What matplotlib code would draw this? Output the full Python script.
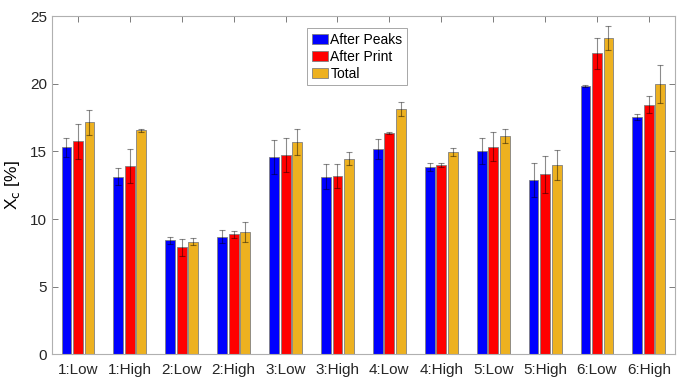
import matplotlib.pyplot as plt
import numpy as np

plt.rcParams['font.family'] = ['Liberation Sans', 'DejaVu Sans']

# kategori sampel
kategori = ['1:Low', '1:High', '2:Low', '2:High', '3:Low', '3:High',
            '4:Low', '4:High', '5:Low', '5:High', '6:Low', '6:High']

# nilai Xc [%] tiap seri
after_peaks = [15.3, 13.15, 8.43, 8.70, 14.6, 13.15, 15.15, 13.83, 15.05, 12.9, 19.85, 17.55]
after_print = [15.75, 13.92, 7.9, 8.87, 14.75, 13.18, 16.38, 13.98, 15.35, 13.3, 22.25, 18.45]
total = [17.15, 16.58, 8.33, 9.05, 15.68, 14.47, 18.12, 14.95, 16.15, 14.0, 23.38, 20.0]

# error bar (std)
err_peaks = [0.67, 0.66, 0.27, 0.5, 1.24, 0.94, 0.74, 0.3, 0.96, 1.26, 0.05, 0.2]
err_print = [1.3, 1.23, 0.6, 0.27, 1.26, 0.9, 0.06, 0.16, 1.08, 1.38, 1.13, 0.62]
err_total = [0.93, 0.12, 0.25, 0.74, 0.96, 0.5, 0.52, 0.3, 0.55, 1.14, 0.89, 1.41]

seri = [('After Peaks', after_peaks, err_peaks, (0, 0, 1)),
        ('After Print', after_print, err_print, (1, 0, 0)),
        ('Total', total, err_total, (0.929, 0.694, 0.125))]

x = np.arange(1, len(kategori) + 1)
lebar = 0.19
geser = 0.222

fig = plt.figure(figsize=(6.9, 3.85), dpi=100)
ax = fig.add_axes([0.0754, 0.0797, 0.9026, 0.878])

for i, (nama, nilai, err, warna) in enumerate(seri):
    pos = x + (i - 1) * geser
    ax.bar(pos, nilai, width=lebar, color=warna, edgecolor='#808080',
           linewidth=0.6, label=nama, zorder=2)
    ax.errorbar(pos, nilai, yerr=err, fmt='none', ecolor='black', alpha=0.45,
                elinewidth=0.8, capsize=2, capthick=0.8, zorder=3)

ax.set_xlim(0.5, 12.5)
ax.set_ylim(0, 25)
ax.set_yticks([0, 5, 10, 15, 20, 25])
ax.set_xticks(x)
ax.set_xticklabels(kategori)
ax.set_ylabel('X$_\\mathrm{c}$ [%]', fontsize=12.5, labelpad=6)
ax.tick_params(axis='both', direction='in', length=4, width=0.6, color='#666666',
               labelsize=11, top=True, right=True, labelcolor='#262626')
ax.tick_params(axis='x', pad=6)
for s in ax.spines.values():
    s.set_color('#b0b0b0')
    s.set_linewidth(0.8)

leg = ax.legend(loc='upper left', bbox_to_anchor=(0.409, 0.965), borderaxespad=0,
                fontsize=10, handlelength=1.2, handleheight=0.7, handletextpad=0.15,
                labelspacing=0.2, borderpad=0.35, fancybox=False,
                edgecolor='#999999', framealpha=1)
leg.get_frame().set_linewidth(0.6)

plt.savefig('out.png', dpi=100)
